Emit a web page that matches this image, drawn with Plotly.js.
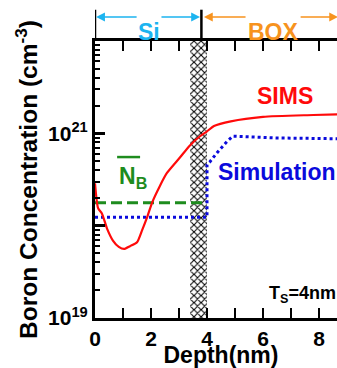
<!DOCTYPE html>
<html>
<head>
<meta charset="utf-8">
<script src="https://cdn.plot.ly/plotly-3.0.1.min.js"></script>
<style>
html,body{margin:0;padding:0;overflow:hidden;background:#fff;width:337px;height:368px;}
#chart{width:355px;height:368px;}
</style>
</head>
<body>
<div id="chart"></div>
<script>
// ---- data ----
const simsDepth = [0, 0.11, 0.25, 0.43, 0.64, 0.85, 1.04, 1.25, 1.5, 1.68, 1.86, 2.04, 2.3, 2.57, 3.04, 3.39, 3.75, 4.0, 4.25, 4.85, 6.0, 7.8, 9.0];
const simsConc = [2.88e20, 1.55e20, 1.35e20, 9.3e19, 6.9e19, 5.9e19, 5.6e19, 6.0e19, 6.6e19, 8.9e19, 1.23e20, 1.78e20, 2.63e20, 3.72e20, 5.5e20, 7.4e20, 9.3e20, 1.05e21, 1.20e21, 1.35e21, 1.51e21, 1.58e21, 1.62e21];
const simDepth = [0, 4.0, 4.0, 4.1, 4.36, 4.71, 4.93, 5.5, 6.5, 9.0];
const simConc = [1.23e20, 1.23e20, 4.57e20, 4.9e20, 6.17e20, 8.13e20, 9.33e20, 9.12e20, 8.91e20, 8.71e20];
const nbDepth = [0, 3.9];
const nbConc = [1.77e20, 1.77e20];
const interfaceRegion = [3.4, 4.0];       // hatched Si/BOX interface band (nm)
const siBoxBoundary = 3.8;                // Si | BOX divider (nm)
const xTickVals = [0, 1, 2, 3, 4, 5, 6, 7, 8];
const xTickText = ['0', '', '2', '', '4', '', '6', '', '8'];
const yTickVals = [1e19, 1e20, 1e21, 1e22];
const yTickText = ['10<sup>19</sup>', '', '10<sup>21</sup>', ''];
const yMinorVals = [2e19,3e19,4e19,5e19,6e19,7e19,8e19,9e19,2e20,3e20,4e20,5e20,6e20,7e20,8e20,9e20,2e21,3e21,4e21,5e21,6e21,7e21,8e21,9e21];

const FONT = 'Liberation Sans, Arial, Helvetica, sans-serif';
const RED = '#FF0A0A', BLUE = '#0A0ADC', GREEN = '#1E8C1E', CYAN = '#1CB4F0', ORANGE = '#F7931E';

const traces = [
  {
    x: [interfaceRegion[0], interfaceRegion[1], interfaceRegion[1], interfaceRegion[0], interfaceRegion[0]],
    y: [1e19, 1e19, 1e22, 1e22, 1e19],
    mode: 'lines', fill: 'toself', line: {width: 0, color: 'rgba(0,0,0,0)'},
    fillcolor: '#ffffff',
    fillpattern: {shape: 'x', size: 5, solidity: 0.38, fgcolor: '#000000', bgcolor: '#ffffff'},
    hoverinfo: 'skip'
  },
  {x: nbDepth, y: nbConc, mode: 'lines', line: {color: GREEN, width: 3, dash: '11px,5px'}},
  {x: simDepth, y: simConc, mode: 'lines', line: {color: BLUE, width: 3, dash: 'dot'}},
  {x: simsDepth, y: simsConc, mode: 'lines', line: {color: RED, width: 2.2, shape: 'spline', smoothing: 0.6}}
];

function arrow(tip, tail, color) {
  return {x: tip, y: 1.0866, xref: 'x', yref: 'paper', ax: tail, ay: 0, axref: 'x', ayref: 'pixel',
    text: '', showarrow: true, arrowhead: 2, arrowsize: 1.1, arrowwidth: 1.6, arrowcolor: color};
}

const layout = {
  width: 355, height: 368,
  margin: {l: 95, r: 8, t: 41, b: 50},
  paper_bgcolor: '#fff', plot_bgcolor: '#fff',
  showlegend: false,
  font: {family: FONT, color: '#000'},
  xaxis: {
    range: [0, 9], showgrid: false, zeroline: false,
    showline: true, linewidth: 3, linecolor: '#000', mirror: 'ticks',
    ticks: 'inside', ticklen: 10, tickwidth: 2.5, tickcolor: '#000',
    tickmode: 'array', tickvals: xTickVals, ticktext: xTickText,
    tickfont: {family: FONT, size: 21, weight: 'bold'},
    title: {text: 'Depth(nm)', font: {family: FONT, size: 23, weight: 'bold'}, standoff: 2}
  },
  yaxis: {
    type: 'log', range: [19, 22], showgrid: false, zeroline: false,
    showline: true, linewidth: 3, linecolor: '#000', mirror: 'ticks',
    ticks: 'inside', ticklen: 10, tickwidth: 2.5, tickcolor: '#000',
    tickmode: 'array', tickvals: yTickVals, ticktext: yTickText,
    tickfont: {family: FONT, size: 21, weight: 'bold'},
    minor: {ticks: 'inside', ticklen: 5, tickwidth: 2, tickcolor: '#000', tickmode: 'array', tickvals: yMinorVals, showgrid: false},
    title: {text: 'Boron Concentration (cm<sup>-3</sup>)', font: {family: FONT, size: 24.5, weight: 'bold'}, standoff: 4}
  },
  shapes: [
    {type: 'line', xref: 'x', yref: 'paper', x0: 0, x1: 0, y0: 1, y1: 1.113, line: {color: '#000', width: 2.5}},
    {type: 'line', xref: 'x', yref: 'paper', x0: siBoxBoundary, x1: siBoxBoundary, y0: 1, y1: 1.113, line: {color: '#000', width: 2.5}},
    {type: 'line', xref: 'x', yref: 'paper', x0: 0.79, x1: 1.61, y0: 0.581, y1: 0.581, line: {color: GREEN, width: 2.5}}
  ],
  annotations: [
    arrow(0.04, 1.54, CYAN), arrow(3.75, 2.32, CYAN),
    arrow(3.89, 5.43, ORANGE), arrow(8.68, 7.29, ORANGE),
    {x: 1.93, y: 1.0866, xref: 'x', yref: 'paper', text: 'Si', showarrow: false,
     font: {family: FONT, size: 23, weight: 'bold', color: CYAN}},
    {x: 6.36, y: 1.0866, xref: 'x', yref: 'paper', text: 'BOX', showarrow: false,
     font: {family: FONT, size: 23, weight: 'bold', color: ORANGE}},
    {x: 6.79, y: 21.40, xref: 'x', yref: 'y', text: 'SIMS', showarrow: false,
     font: {family: FONT, size: 23, weight: 'bold', color: RED}},
    {x: 4.32, y: 20.58, xref: 'x', yref: 'y', xanchor: 'left', text: 'Simulation', showarrow: false,
     font: {family: FONT, size: 23, weight: 'bold', color: BLUE}},
    {x: 0.79, y: 20.52, xref: 'x', yref: 'y', xanchor: 'left', text: 'N<sub>B</sub>', showarrow: false,
     font: {family: FONT, size: 23, weight: 'bold', color: GREEN}},
    {x: 8.67, y: 19.25, xref: 'x', yref: 'y', xanchor: 'right', text: 'T<sub>S</sub>=4nm', showarrow: false,
     font: {family: FONT, size: 18, weight: 'bold', color: '#000'}}
  ]
};

Plotly.newPlot('chart', traces, layout, {displayModeBar: false, staticPlot: true});
</script>
</body>
</html>
